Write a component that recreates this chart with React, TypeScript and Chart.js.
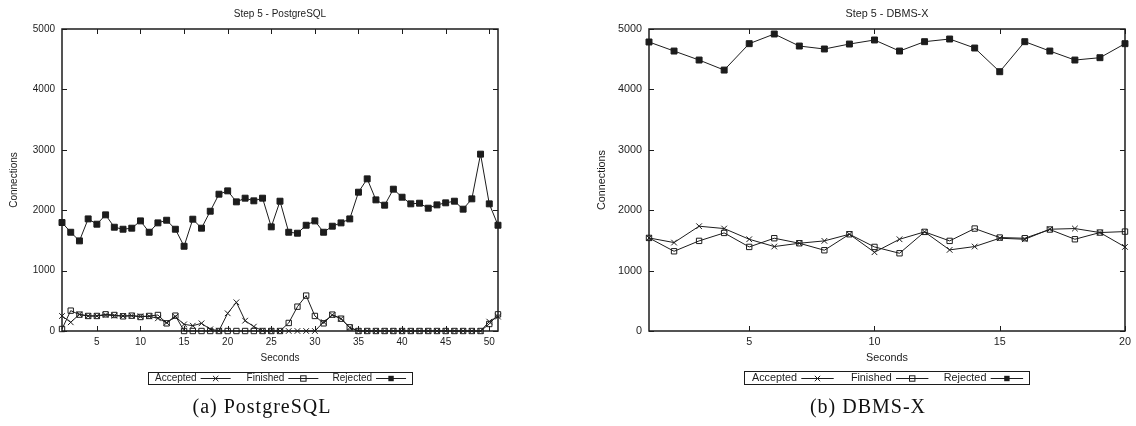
import React, { useEffect, useRef } from "react";
import { Chart, registerables } from "chart.js";

Chart.register(...registerables);

// ---------- data ----------
const pgSeconds = [1, 2, 3, 4, 5, 6, 7, 8, 9, 10, 11, 12, 13, 14, 15, 16, 17, 18, 19, 20, 21, 22, 23, 24, 25, 26, 27, 28, 29, 30, 31, 32, 33, 34, 35, 36, 37, 38, 39, 40, 41, 42, 43, 44, 45, 46, 47, 48, 49, 50, 51];
const pgAccepted = [249, 144, 276, 249, 249, 265, 254, 249, 254, 243, 243, 210, 138, 238, 110, 88, 127, 28, 5, 293, 475, 171, 72, 5, 0, 0, 0, 0, 0, 0, 149, 265, 204, 55, 0, 0, 0, 0, 0, 0, 0, 0, 0, 0, 0, 0, 0, 0, 0, 155, 238];
const pgFinished = [33, 337, 271, 249, 249, 276, 265, 243, 254, 232, 249, 265, 127, 254, 0, 0, 0, 0, 0, 0, 0, 0, 0, 0, 0, 0, 133, 403, 586, 249, 127, 271, 204, 61, 0, 0, 0, 0, 0, 0, 0, 0, 0, 0, 0, 0, 0, 0, 0, 116, 276];
const pgRejected = [1796, 1635, 1492, 1856, 1768, 1923, 1718, 1685, 1702, 1823, 1635, 1790, 1834, 1685, 1403, 1851, 1702, 1983, 2265, 2320, 2138, 2199, 2155, 2199, 1724, 2149, 1635, 1619, 1751, 1823, 1635, 1735, 1790, 1856, 2298, 2519, 2171, 2083, 2348, 2215, 2105, 2116, 2033, 2088, 2122, 2149, 2017, 2188, 2928, 2105, 1751];

const dbSeconds = [1, 2, 3, 4, 5, 6, 7, 8, 9, 10, 11, 12, 13, 14, 15, 16, 17, 18, 19, 20];
const dbAccepted = [1541, 1464, 1735, 1696, 1519, 1398, 1453, 1492, 1602, 1304, 1519, 1641, 1343, 1398, 1536, 1519, 1685, 1696, 1630, 1392];
const dbFinished = [1541, 1320, 1492, 1624, 1392, 1536, 1453, 1337, 1602, 1392, 1287, 1641, 1492, 1696, 1547, 1536, 1680, 1519, 1630, 1646];
const dbRejected = [4785, 4635, 4486, 4320, 4757, 4917, 4718, 4669, 4751, 4818, 4635, 4790, 4834, 4685, 4293, 4790, 4635, 4486, 4525, 4757];

const pgXTicks = [5, 10, 15, 20, 25, 30, 35, 40, 45, 50];
const dbXTicks = [5, 10, 15, 20];
const yTicks = [0, 1000, 2000, 3000, 4000, 5000];
const seriesNames = ["Accepted", "Finished", "Rejected"];
const xAxisTitle = "Seconds";
const yAxisTitle = "Connections";

// ---------- styling ----------
const INK = "#1c1c1c";
const SANS = '"Liberation Sans", Arial, Helvetica, sans-serif';
const SERIF = '"Liberation Serif", "Times New Roman", serif';

type PanelCfg = {
  title: string;
  seconds: number[];
  accepted: number[];
  finished: number[];
  rejected: number[];
  xTicks: number[];
  xMin: number;
  xMax: number;
  canvasLeft: number;
  w: number;
  h: number;
  left: number;
  right: number;
  top: number;
  bottom: number;
  fs: number;
  yTitleX: number;
  titleY: number;
  xTitleY: number;
  legendY: number;
};

function drawMarker(ctx: CanvasRenderingContext2D, kind: number, x: number, y: number, s: number) {
  ctx.beginPath();
  if (kind === 0) {
    ctx.moveTo(x - s, y - s);
    ctx.lineTo(x + s, y + s);
    ctx.moveTo(x - s, y + s);
    ctx.lineTo(x + s, y - s);
    ctx.stroke();
  } else if (kind === 1) {
    ctx.strokeRect(x - s, y - s, 2 * s, 2 * s);
  } else {
    ctx.fillRect(x - s, y - s, 2 * s, 2 * s);
  }
}

function GnuPanel({ cfg }: { cfg: PanelCfg }) {
  const ref = useRef<HTMLCanvasElement | null>(null);

  useEffect(() => {
    const canvas = ref.current;
    if (!canvas) return;
    const p = cfg;
    const font = { family: SANS, size: p.fs };

    const decor = {
      id: "gnuDecor",
      afterDraw(chart: any) {
        const ctx: CanvasRenderingContext2D = chart.ctx;
        const a = chart.chartArea;
        const xs = chart.scales.x;
        const ys = chart.scales.y;
        ctx.save();
        ctx.strokeStyle = INK;
        ctx.fillStyle = INK;
        // inward ticks (mirrored)
        ctx.lineWidth = 1;
        ctx.beginPath();
        for (const v of p.xTicks) {
          const px = Math.round(xs.getPixelForValue(v)) + 0.5;
          ctx.moveTo(px, a.bottom);
          ctx.lineTo(px, a.bottom - 5);
          ctx.moveTo(px, a.top);
          ctx.lineTo(px, a.top + 5);
        }
        for (const v of yTicks) {
          const py = Math.round(ys.getPixelForValue(v)) + 0.5;
          ctx.moveTo(a.left, py);
          ctx.lineTo(a.left + 5, py);
          ctx.moveTo(a.right, py);
          ctx.lineTo(a.right - 5, py);
        }
        ctx.stroke();
        // border
        ctx.lineWidth = 1.5;
        ctx.strokeRect(a.left, a.top, a.right - a.left, a.bottom - a.top);

        // texts
        ctx.font = `${p.fs}px ${SANS}`;
        ctx.textAlign = "center";
        ctx.textBaseline = "middle";
        const cx = (a.left + a.right) / 2;
        ctx.fillText(p.title, cx, p.titleY);
        ctx.fillText(xAxisTitle, cx, p.xTitleY);
        ctx.save();
        ctx.translate(p.yTitleX, (a.top + a.bottom) / 2);
        ctx.rotate(-Math.PI / 2);
        ctx.fillText(yAxisTitle, 0, 0);
        ctx.restore();

        // legend (gnuplot horizontal key with box)
        const k = p.fs / 10;
        const textW = Math.max(...seriesNames.map((n) => ctx.measureText(n).width));
        const sample = 30 * k;
        const gapT = 4 * k;
        const padL = 7 * k;
        const padR = 6 * k;
        const colW = textW + gapT + sample + 12 * k;
        const totalW = padL + textW + 2 * colW + gapT + sample + padR;
        const bx = cx - totalW / 2;
        const bh = 12 * k;
        ctx.lineWidth = 1;
        ctx.strokeRect(Math.round(bx) + 0.5, Math.round(p.legendY - bh / 2) + 0.5, Math.round(totalW), Math.round(bh));
        ctx.textAlign = "right";
        seriesNames.forEach((n, i) => {
          const tr = bx + padL + textW + i * colW;
          ctx.fillText(n, tr, p.legendY + 1);
          const s0 = tr + gapT;
          const s1 = s0 + sample;
          const ly = Math.round(p.legendY) + 0.5;
          ctx.beginPath();
          ctx.moveTo(s0, ly);
          ctx.lineTo(s1, ly);
          ctx.stroke();
          drawMarker(ctx, i, (s0 + s1) / 2, ly, 2.7);
        });
        ctx.restore();
      },
    };

    const mk = (label: string, values: number[], style: string, fill: string, r: number) => ({
      label,
      data: values.map((v, i) => ({ x: p.seconds[i], y: v })),
      borderColor: INK,
      borderWidth: 1,
      pointStyle: style,
      pointRadius: r,
      pointBorderWidth: 1,
      pointBackgroundColor: fill,
      pointBorderColor: INK,
      tension: 0,
      fill: false,
      clip: false,
    });

    const chart = new Chart(canvas, {
      type: "line",
      data: {
        datasets: [
          mk(seriesNames[0], p.accepted, "crossRot", INK, 4),
          mk(seriesNames[1], p.finished, "rect", "rgba(255,255,255,0)", 3.8),
          mk(seriesNames[2], p.rejected, "rect", INK, 4.2),
        ],
      },
      options: {
        responsive: false,
        animation: false,
        devicePixelRatio: 1,
        events: [],
        layout: { padding: { left: 0, right: p.w - p.right, top: p.top, bottom: 0 } },
        plugins: {
          legend: { display: false },
          title: { display: false },
          tooltip: { enabled: false },
        },
        scales: {
          x: {
            type: "linear",
            min: p.xMin,
            max: p.xMax,
            afterFit: (s: any) => {
              s.height = p.h - p.bottom;
            },
            afterBuildTicks: (s: any) => {
              s.ticks = p.xTicks.map((v) => ({ value: v }));
            },
            grid: { display: false, drawTicks: false },
            border: { display: false },
            ticks: {
              font,
              color: INK,
              padding: 5,
              maxRotation: 0,
              autoSkip: false,
              callback: (v: any) => String(v),
            },
          },
          y: {
            type: "linear",
            min: 0,
            max: 5000,
            afterFit: (s: any) => {
              s.width = p.left;
            },
            afterBuildTicks: (s: any) => {
              s.ticks = yTicks.map((v) => ({ value: v }));
            },
            grid: { display: false, drawTicks: false },
            border: { display: false },
            ticks: {
              font,
              color: INK,
              padding: 7,
              callback: (v: any) => String(v),
            },
          },
        },
      } as any,
      plugins: [decor],
    });
    return () => chart.destroy();
  }, [cfg]);

  return (
    <canvas
      ref={ref}
      width={cfg.w}
      height={cfg.h}
      style={{ position: "absolute", left: cfg.canvasLeft, top: 0, width: cfg.w, height: cfg.h }}
    />
  );
}

const pgCfg: PanelCfg = {
  title: "Step 5 - PostgreSQL",
  seconds: pgSeconds,
  accepted: pgAccepted,
  finished: pgFinished,
  rejected: pgRejected,
  xTicks: pgXTicks,
  xMin: 1,
  xMax: 51,
  canvasLeft: 0,
  w: 568,
  h: 395,
  left: 62,
  right: 498,
  top: 29,
  bottom: 331,
  fs: 10,
  yTitleX: 14,
  titleY: 14,
  xTitleY: 358.5,
  legendY: 377.5,
};

const dbCfg: PanelCfg = {
  title: "Step 5 - DBMS-X",
  seconds: dbSeconds,
  accepted: dbAccepted,
  finished: dbFinished,
  rejected: dbRejected,
  xTicks: dbXTicks,
  xMin: 1,
  xMax: 20,
  canvasLeft: 568,
  w: 568,
  h: 395,
  left: 81,
  right: 560,
  top: 29,
  bottom: 331,
  fs: 10.8,
  yTitleX: 34,
  titleY: 14,
  xTitleY: 358.5,
  legendY: 377.5,
};

const captionStyle = (center: number): React.CSSProperties => ({
  position: "absolute",
  left: center - 150,
  width: 300,
  top: 394,
  textAlign: "center",
  fontFamily: SERIF,
  fontSize: 20,
  lineHeight: "24px",
  letterSpacing: "1px",
  color: "#111",
  whiteSpace: "nowrap",
});

export default function App() {
  return (
    <div style={{ position: "absolute", left: 0, top: 0, width: 1136, height: 426, background: "#fff", overflow: "hidden" }}>
      <GnuPanel cfg={pgCfg} />
      <GnuPanel cfg={dbCfg} />
      <div style={captionStyle(262)}>(a) PostgreSQL</div>
      <div style={captionStyle(868)}>(b) DBMS-X</div>
    </div>
  );
}
